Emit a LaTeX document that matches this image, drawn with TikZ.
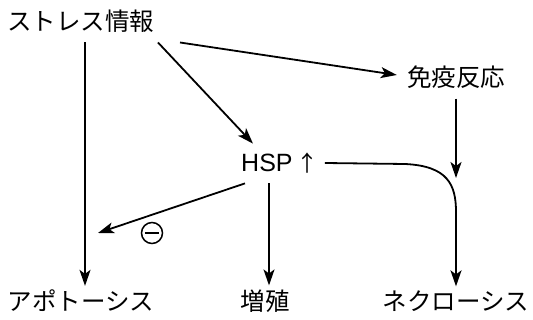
\documentclass[tikz,border=0pt]{standalone}
\usepackage{fontspec}
\setmainfont{Liberation Sans}
\newfontfamily\cjk{Noto Sans CJK JP}
\usetikzlibrary{arrows.meta}
\begin{document}
\begin{tikzpicture}[x=1pt,y=-1pt,
  lbl/.style={inner sep=0pt,font=\cjk\fontsize{24.5}{28}\selectfont},
  arr/.style={line width=1.8pt,-{Stealth[length=16pt,width=11pt,inset=4pt]}},
  ln/.style={line width=1.8pt}]
\useasboundingbox (0,0) rectangle (533,320);
\node[lbl] (stress) at (81,21) {ストレス情報};
\node[lbl] (immune) at (456,77) {免疫反応};
\node[inner sep=0pt,font=\fontsize{25}{28}\selectfont] (hsp) at (280,163) {HSP\,{\cjk\fontsize{22}{26}\selectfont ↑}};
\node[lbl] (apop) at (81,301) {アポトーシス};
\node[lbl] (prolif) at (265,301) {増殖};
\node[lbl] (necro) at (456,301) {ネクローシス};
\node[circle,draw,line width=1.5pt,minimum size=21pt,inner sep=0pt] (minus) at (152,233) {};
\draw[line width=1.6pt] ([xshift=4]minus.west) -- ([xshift=-4]minus.east);
\coordinate (apx) at (85,0);
\draw[arr] ([yshift=-10]stress.south -| apx) -- ([yshift=4]apop.north -| apx);
\draw[arr] ([xshift=77,yshift=-10]stress.south) -- ([xshift=-27,yshift=9]hsp.north);
\draw[arr] ([xshift=99,yshift=-10]stress.south) -- ([xshift=-10,yshift=2]immune.west);
\coordinate (it) at (456,178);
\draw[arr] ([yshift=-10]immune.south) -- (it);
\coordinate (t) at (98,233);
\draw[arr] ([xshift=-35,yshift=-10]hsp.south) -- (t);
\coordinate (hx) at (269,0);
\draw[arr] ([yshift=-10]hsp.south -| hx) -- ([yshift=4]prolif.north -| hx);
\coordinate (c0) at (405,164);
\coordinate (c1) at (456,212);
\draw[arr] ([xshift=6]hsp.east) -- (c0) .. controls (448,166) and (456,185) .. (c1) -- ([yshift=4]necro.north -| c1);
\end{tikzpicture}
\end{document}
